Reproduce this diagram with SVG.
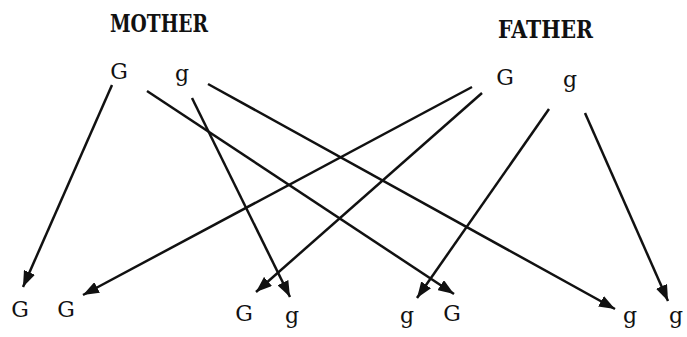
<svg xmlns="http://www.w3.org/2000/svg" width="687" height="337" viewBox="0 0 687 337">
<style>
.t{font-family:"DejaVu Serif","Liberation Serif",serif;font-size:22px;fill:#111;text-anchor:middle}
.h{font-family:"DejaVu Serif","Liberation Serif",serif;font-size:24px;font-weight:bold;fill:#111}
.c line{stroke:#111;stroke-width:2.5;marker-end:url(#a)}
</style>
<defs>
<marker id="a" markerUnits="userSpaceOnUse" viewBox="0 0 16 12" refX="16" refY="6" markerWidth="16" markerHeight="12" orient="auto">
<path d="M0,0 L16,6 L0,12 Z" fill="#111"/>
</marker>
</defs>
<rect width="687" height="337" fill="#fff"/>
<g id="mother-label"><text class="h" x="110" y="32" textLength="98" lengthAdjust="spacingAndGlyphs">MOTHER</text></g>
<g id="father-label"><text class="h" x="498" y="38" textLength="95" lengthAdjust="spacingAndGlyphs">FATHER</text></g>
<g id="mG"><text class="t" x="119" y="79">G</text></g>
<g id="mg"><text class="t" x="182" y="81">g</text></g>
<g id="fG"><text class="t" x="505" y="85">G</text></g>
<g id="fg"><text class="t" x="570" y="87">g</text></g>
<g id="c1a"><text class="t" x="20" y="317">G</text></g>
<g id="c1b"><text class="t" x="66" y="317">G</text></g>
<g id="c2a"><text class="t" x="244" y="321">G</text></g>
<g id="c2b"><text class="t" x="292" y="323">g</text></g>
<g id="c3a"><text class="t" x="407" y="323">g</text></g>
<g id="c3b"><text class="t" x="452" y="321">G</text></g>
<g id="c4a"><text class="t" x="630" y="323">g</text></g>
<g id="c4b"><text class="t" x="676" y="323">g</text></g>
<g class="c" id="connectors">
<line x1="112" y1="85" x2="23" y2="287"/>
<line x1="147" y1="91" x2="454" y2="294"/>
<line x1="192" y1="98" x2="290" y2="297"/>
<line x1="208" y1="84" x2="615" y2="309"/>
<line x1="472" y1="87" x2="83" y2="295"/>
<line x1="482" y1="93" x2="256" y2="292"/>
<line x1="549" y1="109" x2="417" y2="298"/>
<line x1="585" y1="113" x2="668" y2="301"/>
</g>
</svg>
